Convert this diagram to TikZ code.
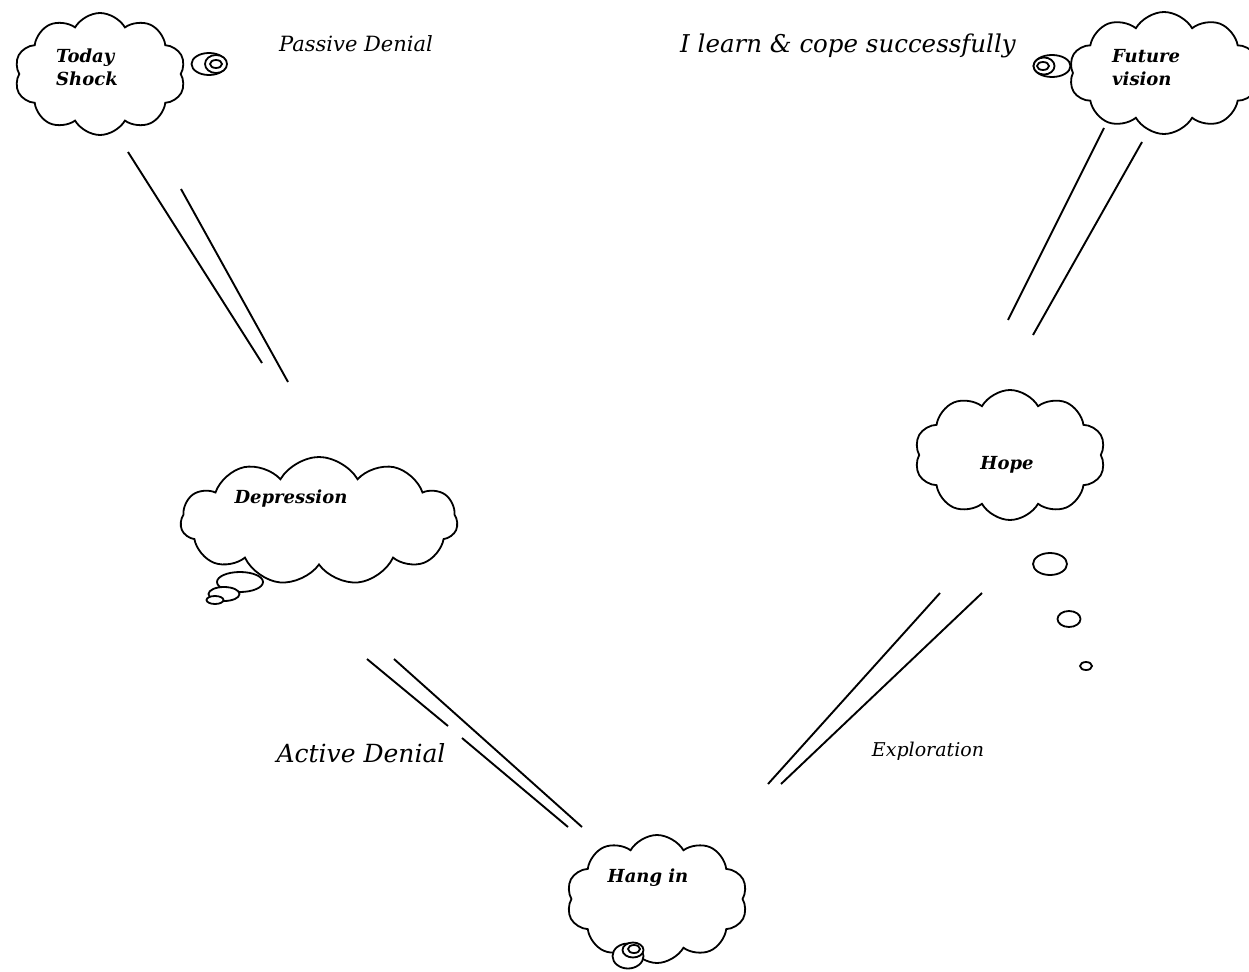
\documentclass[tikz,border=0pt]{standalone}
\usepackage{fontspec}
\setmainfont{DejaVu Serif}
\usetikzlibrary{shapes.symbols,shapes.geometric}
\begin{document}
\begin{tikzpicture}[x=1pt,y=-1pt,
  cloudshape/.style={cloud, draw, line width=1.8pt, cloud puffs=10, cloud puff arc=120, cloud ignores aspect, inner sep=0pt},
  bub/.style={ellipse, draw, line width=1.8pt, fill=white, inner sep=0pt},
  lab/.style={font=\fontsize{18}{23}\selectfont\bfseries\itshape, align=left, inner sep=0pt},
  captext/.style={font=\fontsize{21}{25}\selectfont\itshape, inner sep=0pt},
  bar/.style={line width=1.9pt}]
\useasboundingbox (0,0) rectangle (1249,971);

% clouds
\node[cloudshape, minimum width=171pt, minimum height=122pt] (shock) at (100,74) {};
\node[cloudshape, minimum width=190pt, minimum height=122pt] (future) at (1164,73) {};
\node[cloudshape, cloud puffs=11, minimum width=277pt, minimum height=128pt] (depr) at (319,521) {};
\node[cloudshape, minimum width=191pt, minimum height=130pt] (hope) at (1010,455) {};
\node[cloudshape, minimum width=181pt, minimum height=128pt] (hang) at (657,899) {};

% thought bubbles
\node[bub, minimum width=35pt, minimum height=22pt] (sb1) at (209,64) {};
\node[bub, minimum width=22pt, minimum height=18pt] (sb2) at (216,64) {};
\node[bub, minimum width=12pt, minimum height=8pt] (sb3) at (216,64) {};

\node[bub, minimum width=37pt, minimum height=22pt] (fb1) at (1052,66) {};
\node[bub, minimum width=21pt, minimum height=17pt] (fb2) at (1044,66) {};
\node[bub, minimum width=12pt, minimum height=8pt] (fb3) at (1043,66) {};

\node[bub, minimum width=46pt, minimum height=20pt] (db1) at (240,582) {};
\node[bub, minimum width=31pt, minimum height=14pt] (db2) at (224,594) {};
\node[bub, minimum width=17pt, minimum height=8pt] (db3) at (215,600) {};

\node[bub, minimum width=34pt, minimum height=22pt] (hb1) at (1050,564) {};
\node[bub, minimum width=23pt, minimum height=16pt] (hb2) at (1069,619) {};
\node[bub, minimum width=12pt, minimum height=8pt] (hb3) at (1086,666) {};

\node[bub, minimum width=31pt, minimum height=25pt] (gb1) at (628,956) {};
\node[bub, minimum width=21pt, minimum height=15pt] (gb2) at (633,950) {};
\node[bub, minimum width=12pt, minimum height=8pt] (gb3) at (634,949) {};

% labels
\node[lab, anchor=west] (tshock) at (56,67) {Today\\Shock};
\node[lab, anchor=west] (tfuture) at (1112,68) {Future\\vision};
\node[lab] (tdepr) at (291,499) {Depression};
\node[lab] (thope) at (1007,465) {Hope};
\node[lab] (thang) at (648,878) {Hang in};

\node[captext] (passive) at (356,44) {Passive Denial};
\node[captext, font=\fontsize{24.5}{29}\selectfont\itshape] (learn) at (848,46) {I learn \& cope successfully};
\node[captext, font=\fontsize{25}{30}\selectfont\itshape] (active) at (361,753) {Active Denial};
\node[captext, font=\fontsize{19}{23}\selectfont\itshape] (explo) at (928,751) {Exploration};

% double lines
\coordinate (a1) at (128,152); \coordinate (a2) at (262,363);
\coordinate (a3) at (181,189); \coordinate (a4) at (288,382);
\coordinate (b1) at (1104,128); \coordinate (b2) at (1008,320);
\coordinate (b3) at (1142,142); \coordinate (b4) at (1033,335);
\coordinate (c1) at (367,659); \coordinate (c2) at (448,726);
\coordinate (c3) at (462,738); \coordinate (c4) at (568,827);
\coordinate (c5) at (394,659); \coordinate (c6) at (582,827);
\coordinate (d1) at (940,593); \coordinate (d2) at (768,784);
\coordinate (d3) at (982,593); \coordinate (d4) at (781,784);

\draw[bar] (a1) -- (a2);
\draw[bar] (a3) -- (a4);
\draw[bar] (b1) -- (b2);
\draw[bar] (b3) -- (b4);
\draw[bar] (c1) -- (c2);
\draw[bar] (c3) -- (c4);
\draw[bar] (c5) -- (c6);
\draw[bar] (d1) -- (d2);
\draw[bar] (d3) -- (d4);
\end{tikzpicture}
\end{document}
